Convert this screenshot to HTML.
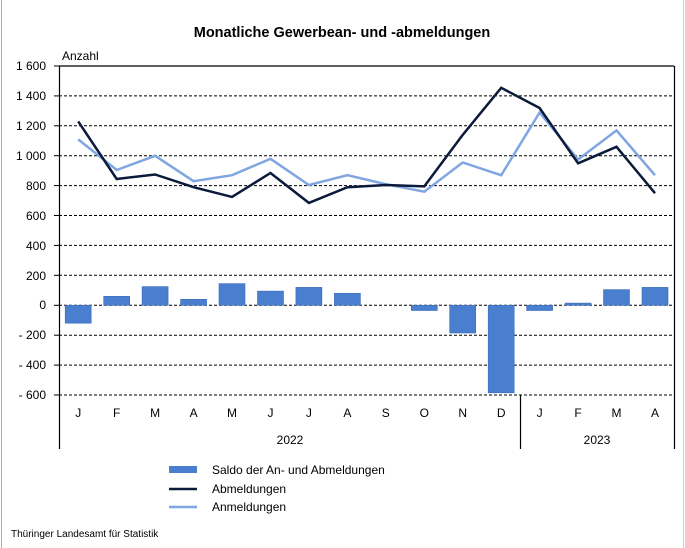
<!DOCTYPE html>
<html><head><meta charset="utf-8"><style>
html,body{margin:0;padding:0;background:#fff;}
svg{display:block;font-family:"Liberation Sans",sans-serif;}
</style></head><body>
<svg width="685" height="548" viewBox="0 0 685 548">
<rect x="0" y="0" width="685" height="548" fill="#fff"/>
<line x1="1.5" y1="0" x2="1.5" y2="548" stroke="#aaa" stroke-width="1"/>
<line x1="683.5" y1="0" x2="683.5" y2="548" stroke="#ccc" stroke-width="1"/>
<text x="342" y="37" text-anchor="middle" font-size="14.5" font-weight="bold" fill="#000">Monatliche Gewerbean- und -abmeldungen</text>
<text x="62" y="60" font-size="12" fill="#000">Anzahl</text>
<g stroke="#000" stroke-width="1" stroke-dasharray="3,2">
<line x1="59" y1="95.9" x2="674" y2="95.9"/><line x1="59" y1="125.8" x2="674" y2="125.8"/>
<line x1="59" y1="155.7" x2="674" y2="155.7"/><line x1="59" y1="185.6" x2="674" y2="185.6"/>
<line x1="59" y1="215.5" x2="674" y2="215.5"/><line x1="59" y1="245.4" x2="674" y2="245.4"/>
<line x1="59" y1="275.3" x2="674" y2="275.3"/><line x1="59" y1="305.3" x2="674" y2="305.3"/>
<line x1="59" y1="335.2" x2="674" y2="335.2"/><line x1="59" y1="365.1" x2="674" y2="365.1"/>
<line x1="59" y1="395" x2="674" y2="395"/>
</g>
<line x1="59" y1="66" x2="674" y2="66" stroke="#000" stroke-width="1.2"/>
<line x1="59.5" y1="66" x2="59.5" y2="449" stroke="#000" stroke-width="1.2"/>
<line x1="674.5" y1="66" x2="674.5" y2="449" stroke="#000" stroke-width="1.2"/>
<line x1="520.5" y1="395" x2="520.5" y2="449" stroke="#000" stroke-width="1.2"/>
<g stroke="#000"><line x1="54" y1="66" x2="59" y2="66"/><line x1="54" y1="95.9" x2="59" y2="95.9"/><line x1="54" y1="125.8" x2="59" y2="125.8"/><line x1="54" y1="155.7" x2="59" y2="155.7"/><line x1="54" y1="185.6" x2="59" y2="185.6"/><line x1="54" y1="215.5" x2="59" y2="215.5"/><line x1="54" y1="245.4" x2="59" y2="245.4"/><line x1="54" y1="275.3" x2="59" y2="275.3"/><line x1="54" y1="305.3" x2="59" y2="305.3"/><line x1="54" y1="335.2" x2="59" y2="335.2"/><line x1="54" y1="365.1" x2="59" y2="365.1"/><line x1="54" y1="395" x2="59" y2="395"/></g>
<g font-size="12" text-anchor="end" fill="#000">
<text x="46" y="70">1 600</text><text x="46" y="100">1 400</text><text x="46" y="130">1 200</text>
<text x="46" y="160">1 000</text><text x="46" y="190">800</text><text x="46" y="220">600</text>
<text x="46" y="250">400</text><text x="46" y="280">200</text><text x="46" y="309">0</text>
<text x="46" y="339">- 200</text><text x="46" y="369">- 400</text><text x="46" y="399">- 600</text>
</g>
<g fill="#4a7fcf" stroke="#3a6cb8" stroke-width="0.6">
<rect x="65.2" y="305.3" width="26" height="17.9"/>
<rect x="103.7" y="296.3" width="26" height="9"/>
<rect x="142.1" y="286.6" width="26" height="18.7"/>
<rect x="180.6" y="299.3" width="26" height="6"/>
<rect x="219" y="283.6" width="26" height="21.7"/>
<rect x="257.5" y="291.1" width="26" height="14.2"/>
<rect x="295.9" y="287.4" width="26" height="17.9"/>
<rect x="334.4" y="293.3" width="26" height="12"/>
<rect x="411.3" y="305.3" width="26" height="5.2"/>
<rect x="449.7" y="305.3" width="26" height="27.7"/>
<rect x="488.2" y="305.3" width="26" height="87.5"/>
<rect x="526.6" y="305.3" width="26" height="5.2"/>
<rect x="565.1" y="303.1" width="26" height="2.2"/>
<rect x="603.5" y="289.6" width="26" height="15.7"/>
<rect x="642" y="287.4" width="26" height="17.9"/>
</g>
<polyline fill="none" stroke="#7fa6e0" stroke-width="2.5" points="78.2,139.4 116.7,170 155.1,155.8 193.6,181.2 232,175.2 270.5,158.8 308.9,185 347.4,175.2 385.8,184.2 424.3,191.7 462.7,162.5 501.2,175.2 539.6,112.5 578.1,159.5 616.5,130.4 655,175.2"/>
<polyline fill="none" stroke="#0b1a3a" stroke-width="2.5" points="78.2,121.4 116.7,179 155.1,174.5 193.6,187.2 232,196.9 270.5,173 308.9,202.9 347.4,187.2 385.8,185 424.3,186.4 462.7,134.9 501.2,87.8 539.6,108 578.1,163.3 616.5,146.8 655,193.2"/>
<g font-size="12" text-anchor="middle" fill="#000">
<text x="78.2" y="417">J</text><text x="116.7" y="417">F</text><text x="155.1" y="417">M</text><text x="193.6" y="417">A</text>
<text x="232" y="417">M</text><text x="270.5" y="417">J</text><text x="308.9" y="417">J</text><text x="347.4" y="417">A</text>
<text x="385.8" y="417">S</text><text x="424.3" y="417">O</text><text x="462.7" y="417">N</text><text x="501.2" y="417">D</text>
<text x="539.6" y="417">J</text><text x="578.1" y="417">F</text><text x="616.5" y="417">M</text><text x="655" y="417">A</text>
<text x="290" y="444">2022</text><text x="597" y="444">2023</text>
</g>
<rect x="169" y="466" width="28" height="7" fill="#4a7fcf"/>
<line x1="169" y1="489" x2="197" y2="489" stroke="#0b1a3a" stroke-width="2.5"/>
<line x1="169" y1="507" x2="197" y2="507" stroke="#7fa6e0" stroke-width="2.5"/>
<g font-size="12" fill="#000">
<text x="212" y="474">Saldo der An- und Abmeldungen</text>
<text x="212" y="493">Abmeldungen</text>
<text x="212" y="511">Anmeldungen</text>
</g>
<text x="11" y="537" font-size="10" fill="#000">Thüringer Landesamt für Statistik</text>
</svg>
</body></html>
